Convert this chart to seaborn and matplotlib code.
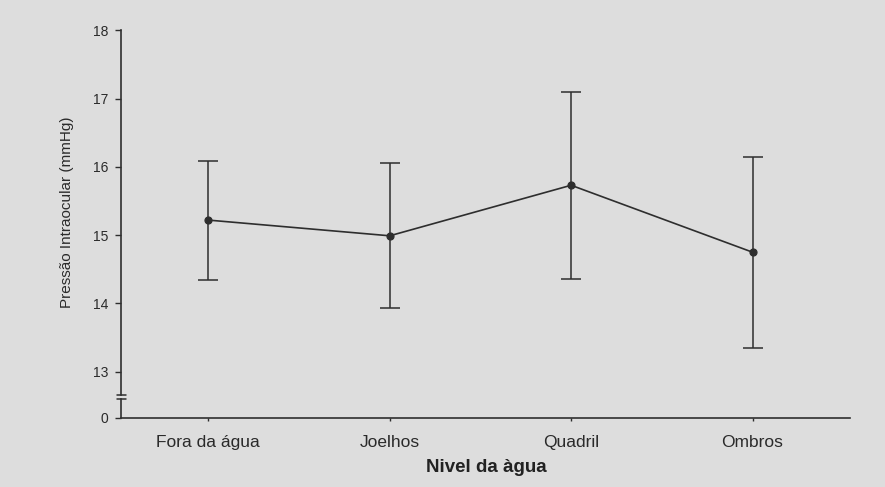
import matplotlib

matplotlib.use("Agg")
import matplotlib.pyplot as plt
import pandas as pd
import seaborn as sns

OUT_PATH = "out.png"

CATEGORIES = ["Fora da água", "Joelhos", "Quadril", "Ombros"]
MEANS = [15.22, 14.99, 15.73, 14.75]
SD = [0.87, 1.06, 1.37, 1.40]
Y_TICKS = [13, 14, 15, 16, 17, 18]

BG = "#dddddd"
INK = "#2e2e2e"

sns.set_theme(style="ticks")
plt.rcParams["font.family"] = ["Liberation Sans", "DejaVu Sans"]

df = pd.DataFrame({"nivel": CATEGORIES, "pio": MEANS, "sd": SD})

fig = plt.figure(figsize=(8.85, 4.87), dpi=100, facecolor=BG)
ax = fig.add_axes([0.137, 0.189, 0.824, 0.749])
ax_low = fig.add_axes([0.137, 0.1417, 0.824, 0.0396], sharex=ax)
for a in (ax, ax_low):
    a.set_facecolor(BG)

sns.pointplot(
    data=df, x="nivel", y="pio", ax=ax, color=INK, errorbar=None,
    markers="o", markersize=5, linewidth=1.2,
)
ax.errorbar(
    range(len(CATEGORIES)), df["pio"], yerr=df["sd"], fmt="none",
    ecolor=INK, elinewidth=1.1, capsize=7, capthick=1.1,
)

ax.set_ylim(12.66, 18)
ax.set_yticks(Y_TICKS)
ax.set_xlim(-0.48, 3.54)
ax_low.set_ylim(0, 0.28)
ax_low.set_yticks([0])

sns.despine(ax=ax, top=True, right=True, bottom=True)
sns.despine(ax=ax_low, top=True, right=True)
for a in (ax, ax_low):
    for s in ("left", "bottom"):
        a.spines[s].set_color(INK)
        a.spines[s].set_linewidth(1.2)
    a.tick_params(axis="y", length=4, width=1, color=INK, labelsize=10,
                  labelcolor="#2a2a2a", pad=5)

ax.tick_params(axis="x", bottom=False, labelbottom=False)
ax_low.tick_params(axis="x", length=2, width=1, color=INK, labelsize=12.5,
                   labelcolor="#2a2a2a", pad=10)
ax_low.set_xticks(range(len(CATEGORIES)))
ax_low.set_xticklabels(CATEGORIES)

# axis break marks
ax.plot([-0.006, 0.006], [0, 0], transform=ax.transAxes, color=INK,
        lw=1.1, clip_on=False)
ax_low.plot([-0.006, 0.006], [1, 1], transform=ax_low.transAxes, color=INK,
            lw=1.1, clip_on=False)

ax.set_xlabel("")
ax.set_ylabel("Pressão Intraocular (mmHg)", fontsize=11, color="#2a2a2a",
              labelpad=14)
ax_low.set_ylabel("")
ax_low.set_xlabel("Nivel da àgua", fontsize=13.5, fontweight="bold",
                  color="#222222", labelpad=7)

fig.savefig(OUT_PATH, dpi=100, facecolor=BG)
plt.close(fig)
